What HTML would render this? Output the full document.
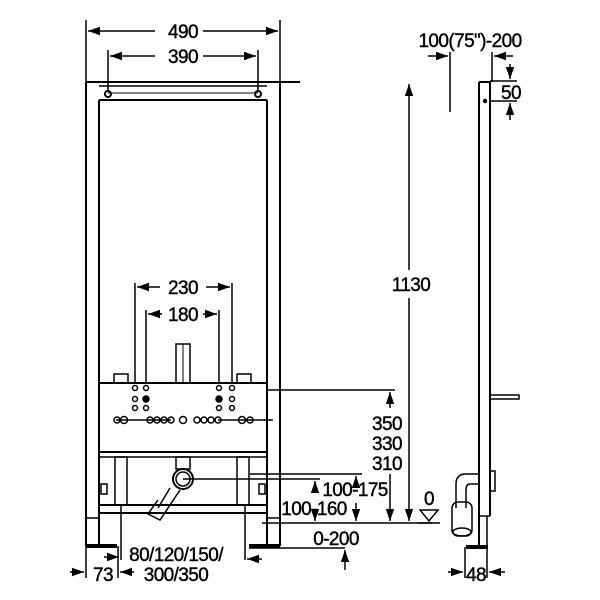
<!DOCTYPE html>
<html><head><style>body{margin:0;background:#fff}svg{display:block}text{font-family:"Liberation Sans",sans-serif;fill:#000;stroke:#000;stroke-width:0.4}</style></head>
<body>
<svg width="600" height="600" viewBox="0 0 600 600" xmlns="http://www.w3.org/2000/svg">
<defs>
<marker id="a" viewBox="0 0 10 10" refX="10" refY="5" markerWidth="8" markerHeight="8" orient="auto-start-reverse"><path d="M0,1.5 L10,5 L0,8.5z" fill="#000"/></marker>
</defs>
<g stroke="#000" stroke-width="2" fill="none">
<line x1="86" y1="82" x2="86" y2="546"/><line x1="99" y1="100" x2="99" y2="546"/>
<line x1="267" y1="100" x2="267" y2="546"/><line x1="280" y1="82" x2="280" y2="546"/>
<line x1="86" y1="82" x2="300" y2="82"/>
<line x1="99" y1="100" x2="267" y2="100"/>
<line x1="99" y1="86" x2="267" y2="86" stroke-width="1.5"/>
<line x1="108" y1="93" x2="258" y2="93" stroke-width="1"/>
<circle cx="108" cy="94" r="3"/><circle cx="258" cy="94" r="3"/>
<line x1="86" y1="518" x2="99" y2="518" stroke-width="1.5"/>
<line x1="267" y1="518" x2="280" y2="518" stroke-width="1.5"/>
<line x1="86" y1="546" x2="117" y2="546" stroke-width="4"/>
<line x1="249" y1="546" x2="280" y2="546" stroke-width="4"/>
<line x1="86" y1="20" x2="86" y2="82" stroke-width="1.5"/><line x1="280" y1="20" x2="280" y2="82" stroke-width="1.5"/>
<line x1="88" y1="31" x2="155" y2="31" stroke-width="1.5" marker-start="url(#a)"/><line x1="203" y1="31" x2="278" y2="31" stroke-width="1.5" marker-end="url(#a)"/>
<line x1="108" y1="50" x2="108" y2="92" stroke-width="1.5"/><line x1="258" y1="50" x2="258" y2="92" stroke-width="1.5"/>
<line x1="110" y1="56" x2="155" y2="56" stroke-width="1.5" marker-start="url(#a)"/><line x1="203" y1="56" x2="256" y2="56" stroke-width="1.5" marker-end="url(#a)"/>
<line x1="135" y1="283" x2="135" y2="383" stroke-width="1.5"/><line x1="232" y1="283" x2="232" y2="383" stroke-width="1.5"/>
<line x1="146" y1="310" x2="146" y2="383" stroke-width="1.5"/><line x1="219" y1="310" x2="219" y2="383" stroke-width="1.5"/>
<line x1="137" y1="287" x2="160" y2="287" stroke-width="1.5" marker-start="url(#a)"/><line x1="206" y1="287" x2="230" y2="287" stroke-width="1.5" marker-end="url(#a)"/>
<line x1="148" y1="314" x2="162" y2="314" stroke-width="1.5" marker-start="url(#a)"/><line x1="203" y1="314" x2="217" y2="314" stroke-width="1.5" marker-end="url(#a)"/>
<rect x="176" y="344" width="14" height="39" stroke-width="1.5"/><line x1="183" y1="344" x2="183" y2="383" stroke-width="1"/>
<rect x="114" y="374" width="14" height="9" stroke-width="1.5"/><rect x="237" y="374" width="14" height="9" stroke-width="1.5"/>
<line x1="99" y1="383" x2="267" y2="383"/>
<line x1="267" y1="390" x2="395" y2="390" stroke-width="1.5"/>
<line x1="99" y1="452" x2="267" y2="452"/><line x1="99" y1="457" x2="267" y2="457" stroke-width="1.5"/>
<g stroke-width="1.5">
<circle cx="135" cy="388" r="2.5"/><circle cx="146" cy="388" r="2.5"/><circle cx="135" cy="399" r="2.5"/><circle cx="146" cy="399" r="3" fill="#000"/><circle cx="135" cy="408" r="2.5"/><circle cx="146" cy="408" r="2.5"/>
<circle cx="219" cy="388" r="2.5"/><circle cx="232" cy="388" r="2.5"/><circle cx="219" cy="399" r="3" fill="#000"/><circle cx="232" cy="399" r="2.5"/><circle cx="219" cy="408" r="2.5"/><circle cx="232" cy="408" r="2.5"/>
<path d="M116,420 h55 M218,420 h55"/>
<circle cx="117" cy="420" r="3"/><circle cx="124" cy="420" r="3.5"/><circle cx="150" cy="420" r="3"/><circle cx="157" cy="420" r="3"/><circle cx="164" cy="420" r="3"/><circle cx="171" cy="420" r="3"/>
<circle cx="183" cy="420" r="3.5"/>
<circle cx="197" cy="420" r="3"/><circle cx="204" cy="420" r="3"/><circle cx="211" cy="420" r="3"/><circle cx="218" cy="420" r="3"/><circle cx="242" cy="420" r="3.5"/><circle cx="250" cy="420" r="3"/>
</g>
<rect x="115" y="457" width="12" height="48" stroke-width="1.5"/><rect x="237" y="457" width="12" height="48" stroke-width="1.5"/>
<rect x="176" y="457" width="14" height="12" stroke-width="1.5"/>
<circle cx="183" cy="479" r="10"/><circle cx="183" cy="479" r="7" stroke-width="1.5"/>
<path d="M158,508 L170,488 M180,490 L160,520 L148,514 L158,500" stroke-width="1.5"/>
<rect x="101" y="484" width="6" height="10" stroke-width="1.5"/><rect x="259" y="484" width="6" height="10" stroke-width="1.5"/>
<line x1="99" y1="505" x2="267" y2="505"/><line x1="99" y1="513" x2="267" y2="513"/>
<line x1="121" y1="505" x2="121" y2="560" stroke-width="1.5"/><line x1="245" y1="505" x2="245" y2="560" stroke-width="1.5"/>
<line x1="86" y1="546" x2="86" y2="578" stroke-width="1.5"/><line x1="118" y1="546" x2="118" y2="578" stroke-width="1.5"/>
<line x1="70" y1="572" x2="84" y2="572" stroke-width="1.5" marker-end="url(#a)"/><line x1="134" y1="572" x2="120" y2="572" stroke-width="1.5" marker-end="url(#a)"/>
<line x1="104" y1="557" x2="119" y2="557" stroke-width="1.5" marker-end="url(#a)"/><line x1="262" y1="559" x2="247" y2="559" stroke-width="1.5" marker-end="url(#a)"/>
<line x1="409" y1="84" x2="409" y2="270" stroke-width="1.5" marker-start="url(#a)"/>
<line x1="409" y1="298" x2="409" y2="521" stroke-width="1.5" marker-end="url(#a)"/>
<line x1="390" y1="392" x2="390" y2="408" stroke-width="1.5" marker-start="url(#a)"/>
<line x1="390" y1="474" x2="390" y2="521" stroke-width="1.5" marker-end="url(#a)"/>
<line x1="262" y1="523" x2="432" y2="523" stroke-width="1.5"/>
<line x1="250" y1="474" x2="362" y2="474" stroke-width="1.5"/>
<line x1="183" y1="479" x2="320" y2="479" stroke-width="1.5"/>
<line x1="356" y1="476" x2="356" y2="488" stroke-width="1.5" marker-start="url(#a)"/>
<line x1="356" y1="503" x2="356" y2="521" stroke-width="1.5" marker-end="url(#a)"/>
<line x1="315" y1="481" x2="315" y2="493" stroke-width="1.5" marker-start="url(#a)"/>
<line x1="315" y1="513" x2="315" y2="521" stroke-width="1.5" marker-end="url(#a)"/>
<line x1="249" y1="548" x2="345" y2="548" stroke-width="1.5"/>
<line x1="345" y1="570" x2="345" y2="550" stroke-width="1.5" marker-end="url(#a)"/>
<path d="M420,510 h18 l-9,11 z" stroke-width="1.5"/><line x1="418" y1="523" x2="440" y2="523" stroke-width="1.5"/>
<line x1="479" y1="82" x2="479" y2="546"/><line x1="490" y1="82" x2="490" y2="516"/>
<line x1="479" y1="82" x2="490" y2="82"/>
<line x1="479" y1="516" x2="490" y2="516" stroke-width="1.5"/>
<line x1="487" y1="516" x2="487" y2="546" stroke-width="1.5"/>
<line x1="466" y1="547" x2="488" y2="547" stroke-width="4"/>
<circle cx="485" cy="101" r="1.2" fill="#000"/>
<rect x="490" y="395" width="29" height="4" stroke-width="1.5"/>
<rect x="490" y="471" width="5" height="20" stroke-width="1.5"/>
<path d="M478,474 h-12 q-10,0 -10,10 v24 M478,484 h-8 q-4,0 -4,6 v18" stroke-width="1.5"/>
<rect x="452" y="502" width="20" height="34" rx="6" stroke-width="1.5"/>
<ellipse cx="462" cy="532" rx="9" ry="4" stroke-width="1.5"/>
<line x1="465" y1="547" x2="465" y2="578" stroke-width="1.5"/><line x1="487" y1="547" x2="487" y2="578" stroke-width="1.5"/>
<line x1="448" y1="572" x2="463" y2="572" stroke-width="1.5" marker-end="url(#a)"/><line x1="505" y1="572" x2="489" y2="572" stroke-width="1.5" marker-end="url(#a)"/>
<line x1="450" y1="52" x2="450" y2="112" stroke-width="1.5"/><line x1="492" y1="52" x2="492" y2="82" stroke-width="1.5"/>
<line x1="428" y1="56" x2="448" y2="56" stroke-width="1.5" marker-end="url(#a)"/><line x1="513" y1="56" x2="494" y2="56" stroke-width="1.5" marker-end="url(#a)"/>
<line x1="490" y1="81" x2="517" y2="81" stroke-width="1.5"/><line x1="490" y1="101" x2="517" y2="101" stroke-width="1.5"/>
<line x1="510" y1="64" x2="510" y2="79" stroke-width="1.5" marker-end="url(#a)"/><line x1="510" y1="120" x2="510" y2="103" stroke-width="1.5" marker-end="url(#a)"/>
</g>
<g font-size="19" letter-spacing="-0.6">
<text x="183" y="38" text-anchor="middle">490</text>
<text x="183" y="63" text-anchor="middle">390</text>
<text x="183" y="294" text-anchor="middle">230</text>
<text x="183" y="321" text-anchor="middle">180</text>
<text x="411" y="291" text-anchor="middle">1130</text>
<text x="387" y="430" text-anchor="middle">350</text>
<text x="387" y="450" text-anchor="middle">330</text>
<text x="387" y="470" text-anchor="middle">310</text>
<text x="355" y="496" text-anchor="middle">100-175</text>
<text x="314" y="515" text-anchor="middle">100-160</text>
<text x="336" y="545" text-anchor="middle">0-200</text>
<text x="429" y="505" text-anchor="middle">0</text>
<text x="176" y="561" text-anchor="middle">80/120/150/</text>
<text x="176" y="581" text-anchor="middle">300/350</text>
<text x="103" y="581" text-anchor="middle">73</text>
<text x="476" y="581" text-anchor="middle">48</text>
<text x="470" y="47" text-anchor="middle">100(75")-200</text>
<text x="511" y="99" text-anchor="middle">50</text>
</g>
</svg>
</body></html>
